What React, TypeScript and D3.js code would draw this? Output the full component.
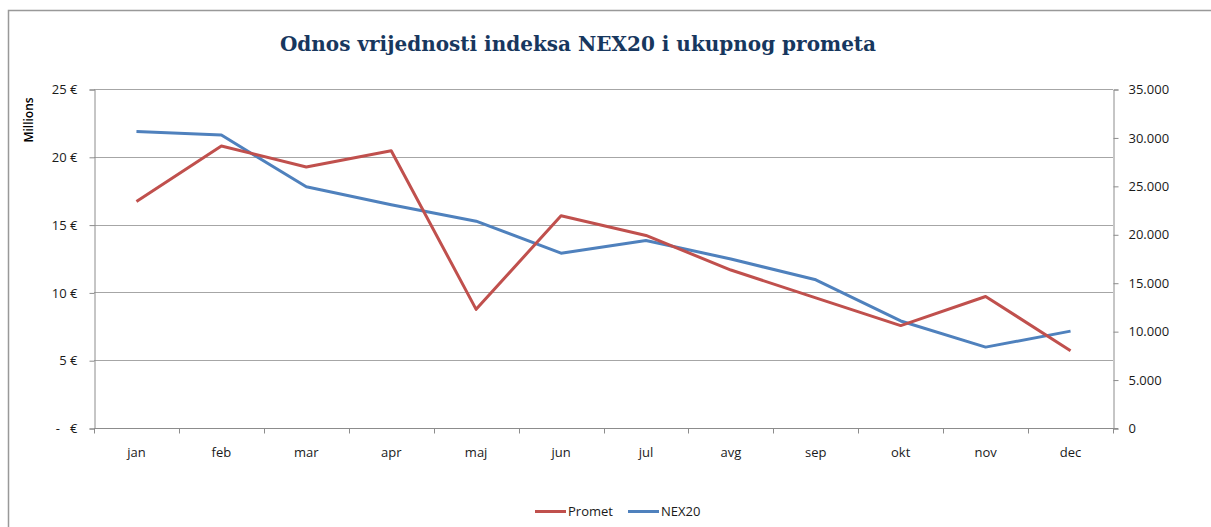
import * as d3 from 'd3'
import React, { useEffect, useRef } from 'react'

const months = ['jan', 'feb', 'mar', 'apr', 'maj', 'jun', 'jul', 'avg', 'sep', 'okt', 'nov', 'dec']
// Promet in millions of euro (left axis)
const promet = [16.7, 20.8, 19.25, 20.45, 8.75, 15.65, 14.2, 11.65, 9.6, 7.55, 9.7, 5.7]
// NEX20 index value (right axis)
const nex20 = [30600, 30250, 24900, 23050, 21350, 18050, 19350, 17450, 15300, 11050, 8350, 10000]
const leftTicks = [0, 5, 10, 15, 20, 25]
const rightTicks = [0, 5000, 10000, 15000, 20000, 25000, 30000, 35000]

const RED = '#c0504d'
const BLUE = '#4f81bd'
const FONT = '"Open Sans", "Noto Sans", sans-serif'

const W = 1211, H = 527

const App = () => {
    const ref = useRef<SVGSVGElement>(null)

    useEffect(() => {
        const svg = d3.select(ref.current)
        svg.selectAll('*').remove()

        let margin = {top: 89, left: 94, right: 1113, bottom: 428}

        // outer chart border (right and bottom edges fall outside the picture)
        svg.append('rect')
            .attr('x', 8.5).attr('y', 10.5)
            .attr('width', 1215).attr('height', 540)
            .attr('fill', 'white')
            .attr('stroke', '#999')
            .attr('stroke-width', 1.5)

        svg.append('text')
            .attr('x', 578).attr('y', 51)
            .attr('text-anchor', 'middle')
            .style('font-family', '"DejaVu Serif", "Liberation Serif", serif')
            .style('font-weight', 'bold')
            .style('font-size', '20px')
            .attr('fill', '#17375e')
            .text('Odnos vrijednosti indeksa NEX20 i ukupnog prometa')

        let x = d3.scaleBand().domain(months).range([margin.left, margin.right])
        let yL = d3.scaleLinear().domain([0, 25]).range([margin.bottom, margin.top])
        let yR = d3.scaleLinear().domain([0, 35000]).range([margin.bottom, margin.top])

        // gridlines from left axis
        svg.append('g')
            .selectAll('line')
            .data(leftTicks.filter(d => d > 0))
            .enter()
            .append('line')
            .attr('x1', margin.left).attr('x2', margin.right)
            .attr('y1', d => Math.round(yL(d)) + 0.5)
            .attr('y2', d => Math.round(yL(d)) + 0.5)
            .attr('stroke', '#a6a6a6')

        // left axis
        let left = svg.append('g')
            .attr('transform', 'translate(' + (margin.left + 0.5) + ',0.5)')
            .call(d3.axisLeft(yL).tickValues(leftTicks).tickSize(5).tickPadding(12)
                .tickFormat(d => (+d === 0 ? '-\u00a0\u00a0\u00a0€' : d + ' €')))
        left.selectAll('text').style('font-family', FONT).style('font-size', '13px').attr('fill', '#1a1a1a')

        // right axis
        let right = svg.append('g')
            .attr('transform', 'translate(' + (margin.right + 0.5) + ',0.5)')
            .call(d3.axisRight(yR).tickValues(rightTicks).tickSize(5).tickPadding(10)
                .tickFormat(d => d3.format(',')(+d).replace(/,/g, '.')))
        right.selectAll('text').style('font-family', FONT).style('font-size', '13px').attr('fill', '#1a1a1a')

        // bottom axis, ticks between categories
        let bottom = svg.append('g')
            .attr('transform', 'translate(0,' + (margin.bottom + 0.5) + ')')
        bottom.append('line')
            .attr('x1', margin.left).attr('x2', margin.right + 5)
            .attr('stroke', '#8c8c8c')
        bottom.selectAll('.tk')
            .data(months.concat(['end']))
            .enter()
            .append('line')
            .attr('class', 'tk')
            .attr('x1', (d, i) => Math.round(margin.left + i * x.step()) + 0.5)
            .attr('x2', (d, i) => Math.round(margin.left + i * x.step()) + 0.5)
            .attr('y1', 0).attr('y2', 5)
            .attr('stroke', '#8c8c8c')
        bottom.selectAll('.lbl')
            .data(months)
            .enter()
            .append('text')
            .attr('class', 'lbl')
            .attr('x', d => x(d)! + x.bandwidth() / 2)
            .attr('y', 28)
            .attr('text-anchor', 'middle')
            .style('font-family', FONT)
            .style('font-size', '13px')
            .attr('fill', '#1a1a1a')
            .text(d => d)

        svg.selectAll('.domain').attr('stroke', '#8c8c8c')
        svg.selectAll('.tick line').attr('stroke', '#8c8c8c')

        svg.append('text')
            .attr('transform', 'translate(33,120) rotate(-90)')
            .attr('text-anchor', 'middle')
            .style('font-family', FONT)
            .style('font-size', '12px')
            .style('font-weight', 600)
            .attr('fill', '#000')
            .text('Millions')

        let cx = (i: number) => x(months[i])! + x.bandwidth() / 2
        let lineL = d3.line<number>().x((d, i) => cx(i)).y(d => yL(d))
        let lineR = d3.line<number>().x((d, i) => cx(i)).y(d => yR(d))

        svg.append('path')
            .datum(nex20)
            .attr('d', lineR)
            .attr('fill', 'none')
            .attr('stroke', BLUE)
            .attr('stroke-width', 3)
            .attr('stroke-linejoin', 'round')
        svg.append('path')
            .datum(promet)
            .attr('d', lineL)
            .attr('fill', 'none')
            .attr('stroke', RED)
            .attr('stroke-width', 3)
            .attr('stroke-linejoin', 'round')

        // legend
        let legend = [{name: 'Promet', color: RED, x: 535}, {name: 'NEX20', color: BLUE, x: 628}]
        let lg = svg.append('g')
        legend.forEach(l => {
            lg.append('line')
                .attr('x1', l.x).attr('x2', l.x + 31)
                .attr('y1', 511.5).attr('y2', 511.5)
                .attr('stroke', l.color).attr('stroke-width', 3)
            lg.append('text')
                .attr('x', l.x + 33).attr('y', 516)
                .style('font-family', FONT)
                .style('font-size', '13px')
                .attr('fill', '#1a1a1a')
                .text(l.name)
        })
    }, [])

    return (
        <svg ref={ref} width={W} height={H}
            style={{position: 'absolute', left: 0, top: 0, background: 'white'}} />
    )
}

export default App
